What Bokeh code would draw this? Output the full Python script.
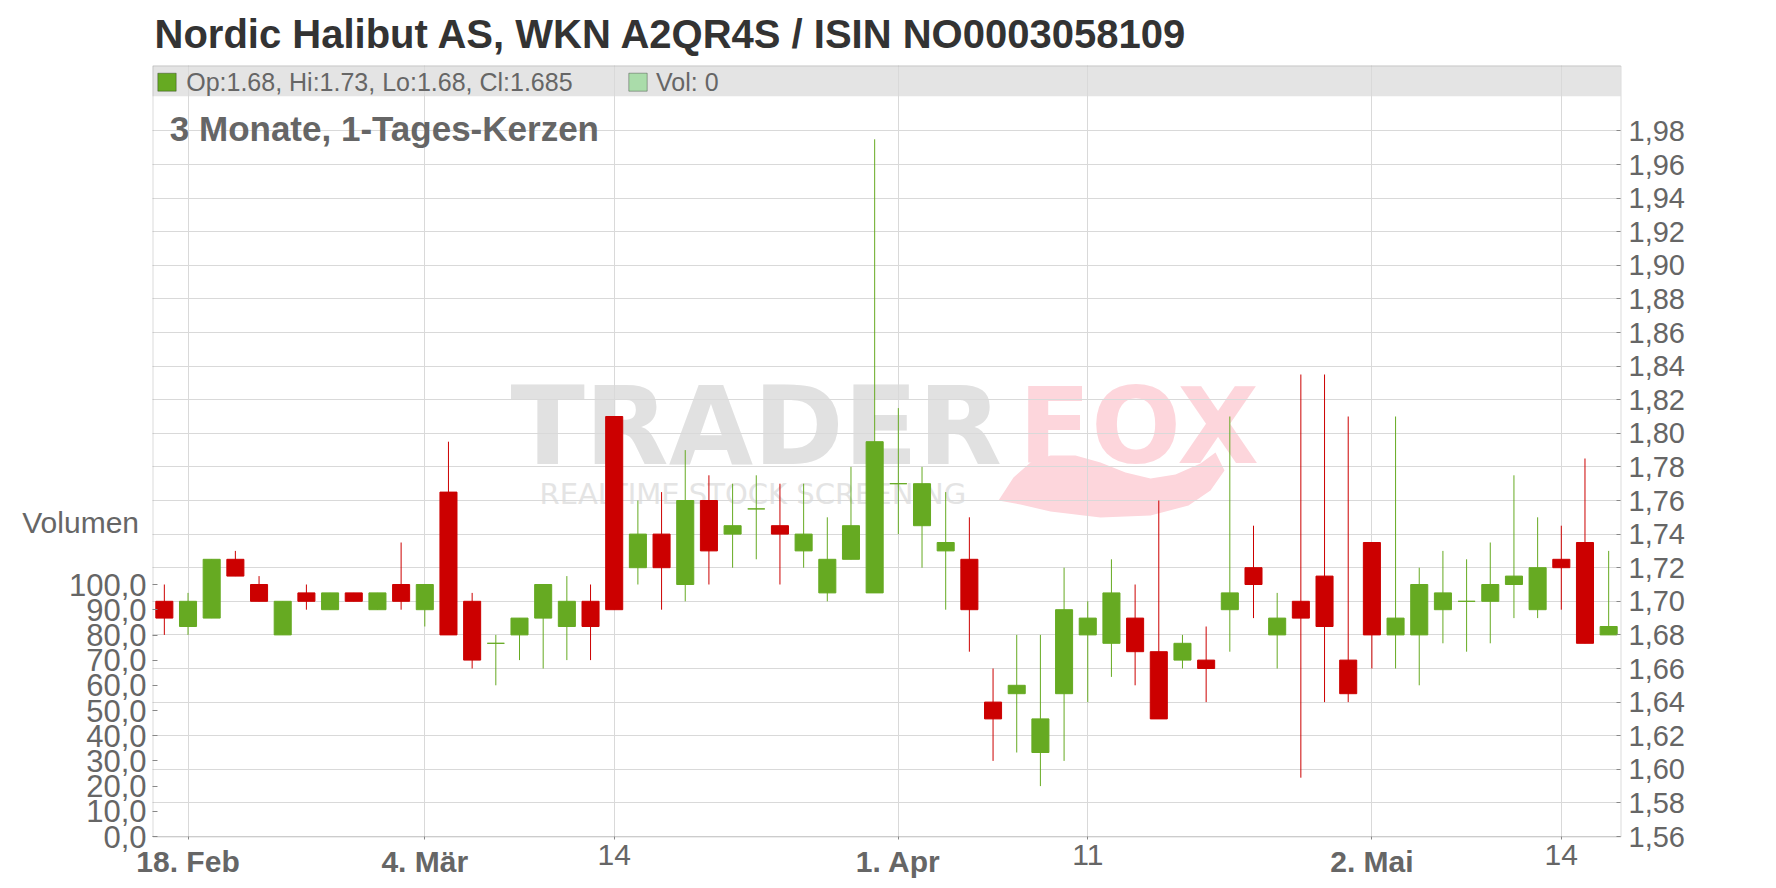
from bokeh.plotting import figure
from bokeh.models import (Range1d, LinearAxis, FixedTicker, Label, BoxAnnotation, Grid,
                          ColumnDataSource, CustomJSTickFormatter)
from bokeh.embed import file_html
from bokeh.resources import INLINE

# ---------------- data ----------------
TITLE = "Nordic Halibut AS, WKN A2QR4S / ISIN NO0003058109"
SUBTITLE = "3 Monate, 1-Tages-Kerzen"
LEGEND_OHLC = "Op:1.68, Hi:1.73, Lo:1.68, Cl:1.685"
LEGEND_VOL = "Vol: 0"
VOL_LABEL = "Volumen"

dates = [
    "2019-02-15",
    "2019-02-18", "2019-02-19", "2019-02-20", "2019-02-21", "2019-02-22",
    "2019-02-25", "2019-02-26", "2019-02-27", "2019-02-28", "2019-03-01",
    "2019-03-04", "2019-03-05", "2019-03-06", "2019-03-07", "2019-03-08",
    "2019-03-11", "2019-03-12", "2019-03-13", "2019-03-14", "2019-03-15",
    "2019-03-18", "2019-03-19", "2019-03-20", "2019-03-21", "2019-03-22",
    "2019-03-25", "2019-03-26", "2019-03-27", "2019-03-28", "2019-03-29",
    "2019-04-01", "2019-04-02", "2019-04-03", "2019-04-04", "2019-04-05",
    "2019-04-08", "2019-04-09", "2019-04-10", "2019-04-11", "2019-04-12",
    "2019-04-15", "2019-04-16", "2019-04-17", "2019-04-18",
    "2019-04-23", "2019-04-24", "2019-04-25", "2019-04-26",
    "2019-04-29", "2019-04-30", "2019-05-02", "2019-05-03",
    "2019-05-06", "2019-05-07", "2019-05-08", "2019-05-09", "2019-05-10",
    "2019-05-13", "2019-05-14", "2019-05-15", "2019-05-16",
]

opens = [
    1.700,
    1.685, 1.690, 1.725, 1.710, 1.680,
    1.705, 1.695, 1.705, 1.695, 1.710,
    1.695, 1.765, 1.700, 1.675, 1.680,
    1.690, 1.685, 1.700, 1.810, 1.720,
    1.740, 1.710, 1.760, 1.740, 1.755,
    1.745, 1.730, 1.705, 1.725, 1.705,
    1.770, 1.745, 1.730, 1.725, 1.640,
    1.645, 1.610, 1.645, 1.680, 1.675,
    1.690, 1.670, 1.665, 1.665,
    1.695, 1.720, 1.680, 1.700,
    1.715, 1.665, 1.735, 1.680,
    1.680, 1.695, 1.700, 1.700, 1.710,
    1.695, 1.725, 1.735, 1.680,
]
highs = [
    1.710,
    1.705, 1.725, 1.730, 1.715, 1.700,
    1.710, 1.705, 1.705, 1.705, 1.735,
    1.710, 1.795, 1.705, 1.680, 1.690,
    1.710, 1.715, 1.710, 1.810, 1.760,
    1.765, 1.790, 1.775, 1.770, 1.775,
    1.770, 1.770, 1.750, 1.780, 1.975,
    1.815, 1.780, 1.765, 1.750, 1.660,
    1.680, 1.680, 1.720, 1.700, 1.725,
    1.710, 1.760, 1.680, 1.685,
    1.810, 1.745, 1.705, 1.835,
    1.835, 1.810, 1.735, 1.810,
    1.720, 1.730, 1.725, 1.735, 1.775,
    1.750, 1.745, 1.785, 1.730,
]
lows = [
    1.680,
    1.680, 1.690, 1.715, 1.700, 1.680,
    1.695, 1.695, 1.700, 1.695, 1.695,
    1.685, 1.680, 1.660, 1.650, 1.665,
    1.660, 1.665, 1.665, 1.695, 1.710,
    1.695, 1.700, 1.710, 1.720, 1.725,
    1.710, 1.720, 1.700, 1.725, 1.705,
    1.740, 1.720, 1.695, 1.670, 1.605,
    1.610, 1.590, 1.605, 1.640, 1.655,
    1.650, 1.630, 1.660, 1.640,
    1.670, 1.690, 1.660, 1.595,
    1.640, 1.640, 1.660, 1.660,
    1.650, 1.675, 1.670, 1.675, 1.690,
    1.690, 1.695, 1.675, 1.680,
]
closes = [
    1.690,
    1.700, 1.725, 1.715, 1.700, 1.700,
    1.700, 1.705, 1.700, 1.705, 1.700,
    1.710, 1.680, 1.665, 1.675, 1.690,
    1.710, 1.700, 1.685, 1.695, 1.740,
    1.720, 1.760, 1.730, 1.745, 1.755,
    1.740, 1.740, 1.725, 1.745, 1.795,
    1.770, 1.770, 1.735, 1.695, 1.630,
    1.650, 1.630, 1.695, 1.690, 1.705,
    1.670, 1.630, 1.675, 1.660,
    1.705, 1.710, 1.690, 1.690,
    1.685, 1.645, 1.680, 1.690,
    1.710, 1.705, 1.700, 1.710, 1.715,
    1.720, 1.720, 1.675, 1.685,
]

x_tick_dates = ["2019-02-18", "2019-03-04", "2019-03-14", "2019-04-01",
                "2019-04-11", "2019-05-02", "2019-05-14"]
x_tick_labels = ["18. Feb", "4. Mär", "14", "1. Apr", "11", "2. Mai", "14"]
x_tick_bold = [True, True, False, True, False, True, False]

price_ticks = [1.56, 1.58, 1.60, 1.62, 1.64, 1.66, 1.68, 1.70, 1.72, 1.74, 1.76,
               1.78, 1.80, 1.82, 1.84, 1.86, 1.88, 1.90, 1.92, 1.94, 1.96, 1.98]
price_tick_labels = ["1,56", "1,58", "1,60", "1,62", "1,64", "1,66", "1,68", "1,70",
                     "1,72", "1,74", "1,76", "1,78", "1,80", "1,82", "1,84", "1,86",
                     "1,88", "1,90", "1,92", "1,94", "1,96", "1,98"]
volume_ticks = [0, 10, 20, 30, 40, 50, 60, 70, 80, 90, 100]
volume_tick_labels = ["0,0", "10,0", "20,0", "30,0", "40,0", "50,0", "60,0",
                      "70,0", "80,0", "90,0", "100,0"]

# ---------------- layout constants ----------------
GREEN = "#66aa22"
RED = "#cc0000"
TXT = "#666666"
AXIS = "#888888"
FONT = "Liberation Sans"

BL, BR, BT, BB = 152, 148, 65, 44          # space around the plot area (px)
FW, FH = 1468, 771                         # plot area (px)
W, H = BL + FW + BR, BT + FH + BB
N = len(dates)
X0, X1 = -0.5, N - 0.5
PX_X = FW / (X1 - X0)
PX_PER_PRICE = 1680.0
Y0 = 1.56
Y1 = Y0 + FH / PX_PER_PRICE
VOL_PX = 2.517
VOL_MAX = FH / VOL_PX

# the whole canvas is the bokeh frame, so nothing is clipped
XS, XE = X0 - BL / PX_X, X1 + BR / PX_X
YS, YE = Y0 - BB / PX_PER_PRICE, Y1 + BT / PX_PER_PRICE
VS, VE = -BB / VOL_PX, VOL_MAX + BT / VOL_PX


def dx(page_x):
    return X0 + (page_x - BL) / PX_X


def dy(page_y):
    return Y0 + (BT + FH - page_y) / PX_PER_PRICE


LOOKUP_JS = ("const i = tvals.findIndex(t => Math.abs(t - tick) < 1e-9); "
             "return i >= 0 ? tlabels[i] : '';")

idx = list(range(N))
colors = [GREEN if c >= o else RED for o, c in zip(opens, closes)]
src = ColumnDataSource(dict(
    x=idx, open=opens, high=highs, low=lows, close=closes,
    top=[max(o, c) for o, c in zip(opens, closes)],
    bottom=[min(o, c) for o, c in zip(opens, closes)],
    color=colors,
))

tick_idx = [dates.index(d) for d in x_tick_dates]
bold_idx = [t for t, b in zip(tick_idx, x_tick_bold) if b]
bold_lab = [l for l, b in zip(x_tick_labels, x_tick_bold) if b]
day_idx = [t for t, b in zip(tick_idx, x_tick_bold) if not b]
day_lab = [l for l, b in zip(x_tick_labels, x_tick_bold) if not b]

p = figure(width=W, height=H, x_range=Range1d(XS, XE), y_range=Range1d(YS, YE),
           output_backend="svg", toolbar_location=None,
           x_axis_location=None, y_axis_location=None,
           min_border_left=0, min_border_right=0, min_border_top=0,
           min_border_bottom=0)
p.background_fill_color = "white"
p.border_fill_color = "white"
p.outline_line_color = None
p.center = [r for r in p.center if not isinstance(r, Grid)]

# grids limited to the plot area
p.add_layout(Grid(dimension=0, ticker=FixedTicker(ticks=tick_idx), cross_bounds=(Y0, Y1),
                  grid_line_color="#d9d9d9", grid_line_width=1))
p.add_layout(Grid(dimension=1, ticker=FixedTicker(ticks=price_ticks), cross_bounds=(X0, X1),
                  grid_line_color="#d9d9d9", grid_line_width=1))


def style(ax, size="29px", weight="normal"):
    ax.axis_line_color = None
    ax.minor_tick_line_color = None
    ax.major_tick_line_color = AXIS
    ax.major_label_text_font = FONT
    ax.major_label_text_font_size = size
    ax.major_label_text_font_style = weight
    ax.major_label_text_color = TXT


# right price axis
ya = LinearAxis(fixed_location=X1, bounds=(Y0, Y1), ticker=FixedTicker(ticks=price_ticks),
                formatter=CustomJSTickFormatter(
                    args=dict(tvals=price_ticks, tlabels=price_tick_labels), code=LOOKUP_JS))
style(ya)
ya.major_tick_in = 4
ya.major_tick_out = 0
ya.major_label_standoff = 8
p.add_layout(ya, "right")

# bottom axis: month labels bold
xa = LinearAxis(fixed_location=Y0, bounds=(X0, X1), ticker=FixedTicker(ticks=tick_idx),
                formatter=CustomJSTickFormatter(
                    args=dict(tvals=bold_idx, tlabels=bold_lab), code=LOOKUP_JS))
style(xa, size="30px", weight="bold")
xa.major_tick_in = 0
xa.major_tick_out = 3
xa.major_label_standoff = 5
p.add_layout(xa, "below")

# bottom axis: day labels normal weight
xd = LinearAxis(fixed_location=Y0, bounds=(X0, X1), ticker=FixedTicker(ticks=day_idx),
                formatter=CustomJSTickFormatter(
                    args=dict(tvals=day_idx, tlabels=day_lab), code=LOOKUP_JS))
style(xd, size="30px")
xd.major_tick_line_color = None
xd.major_tick_in = 0
xd.major_tick_out = 3
xd.major_label_standoff = 5
p.add_layout(xd, "below")

# left volume axis
p.extra_y_ranges = {"vol": Range1d(VS, VE)}
va = LinearAxis(y_range_name="vol", fixed_location=X0, bounds=(0, VOL_MAX),
                ticker=FixedTicker(ticks=volume_ticks),
                formatter=CustomJSTickFormatter(
                    args=dict(tvals=volume_ticks, tlabels=volume_tick_labels),
                    code=LOOKUP_JS))
style(va, size="31px")
va.major_tick_in = 5
va.major_tick_out = 0
va.major_label_standoff = 6
p.add_layout(va, "left")

# legend band (under the grid)
p.add_layout(BoxAnnotation(left=X0, right=X1, top=Y1, bottom=dy(95.7),
                           fill_color="#e4e4e4", fill_alpha=1.0, line_color=None,
                           level="image"))

# watermark (decoration)
wm = [
    ("TRADER", 510, 426, "#e1e1e1", "DejaVu Sans", "109px", "bold"),
    ("FOX", 1018, 426, "#fdd6dc", "DejaVu Sans", "106px", "bold"),
    ("REALTIME STOCK SCREENING", 539, 493, "#e4e4e4", "DejaVu Sans", "29px", "normal"),
]
for t, px, py, c, f, s, st in wm:
    p.add_layout(Label(x=dx(px), y=dy(py), text=t, text_color=c, text_font=f,
                       text_font_size=s, text_font_style=st,
                       text_baseline="middle", level="image"))
WM_TAIL_PX = [(998, 500), (1013, 477), (1030, 462), (1050, 455), (1075, 455),
              (1100, 462), (1125, 472), (1150, 478), (1175, 474), (1200, 463),
              (1215, 452), (1224, 470), (1210, 490), (1188, 505), (1150, 515),
              (1100, 517), (1050, 511), (1020, 504)]
p.patch([dx(a) for a, b in WM_TAIL_PX], [dy(b) for a, b in WM_TAIL_PX],
        fill_color="#fdd6dc", line_color=None, level="image")

# candles
p.segment(x0="x", y0="low", x1="x", y1="high", source=src, line_color="color",
          line_width=1)
p.vbar(x="x", width=0.72, top="top", bottom="bottom", source=src,
       fill_color="color", line_color="color", line_width=1)

# plot-area border
p.add_layout(BoxAnnotation(left=dx(152.5), right=dx(1620.5), top=dy(65.5), bottom=dy(836.5),
                           fill_alpha=0, line_color=AXIS, line_width=1))

# legend squares and texts
p.add_layout(BoxAnnotation(left=dx(157.3), right=dx(175.7), top=dy(72.7), bottom=dy(90.7),
                           fill_color=GREEN, fill_alpha=1, line_color="black",
                           line_width=1))
p.add_layout(BoxAnnotation(left=dx(628.3), right=dx(646.7), top=dy(72.7), bottom=dy(90.7),
                           fill_color="#aadcaa", fill_alpha=1, line_color="black",
                           line_width=1))
p.add_layout(Label(x=dx(185.7), y=dy(81.3), text=LEGEND_OHLC, text_font=FONT,
                   text_font_size="25px", text_color=TXT, text_baseline="middle"))
p.add_layout(Label(x=dx(655.5), y=dy(81.3), text=LEGEND_VOL, text_font=FONT,
                   text_font_size="25px", text_color=TXT, text_baseline="middle"))

# subtitle
p.add_layout(Label(x=dx(169.3), y=dy(128.4), text=SUBTITLE, text_font=FONT,
                   text_font_size="35px", text_font_style="bold", text_color=TXT,
                   text_baseline="middle"))

# title
p.add_layout(Label(x=dx(154), y=dy(33.4), text=TITLE, text_font=FONT,
                   text_font_size="40px", text_font_style="bold", text_color="#333333",
                   text_baseline="middle"))

# volume axis caption
p.add_layout(Label(x=dx(138.5), y=dy(522), text=VOL_LABEL, text_font=FONT,
                   text_font_size="30px", text_color=TXT, text_align="right",
                   text_baseline="middle"))

open("out.html", "w").write(file_html(p, INLINE))
